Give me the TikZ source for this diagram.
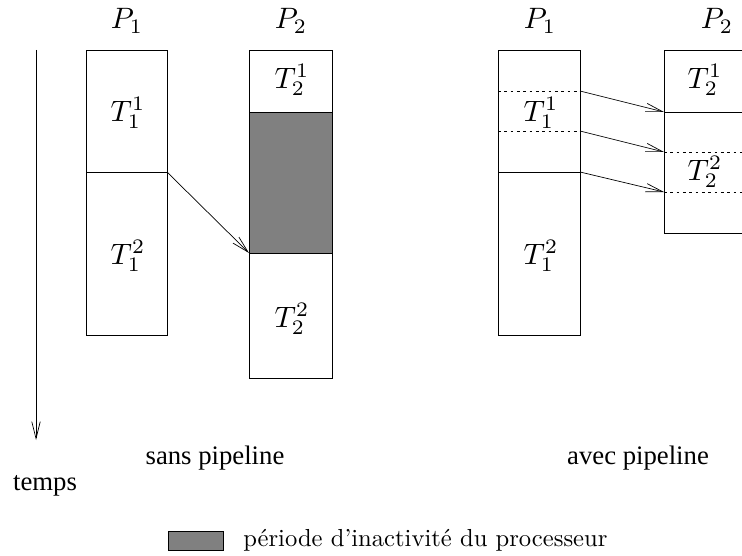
\documentclass[tikz,border=0pt]{standalone}
\usepackage{fontspec}
\usepackage{graphicx}
\newfontfamily\timesfont{Liberation Serif}
\usetikzlibrary{arrows.meta,positioning}
\definecolor{idle}{HTML}{808080}
\newcommand{\tlab}[1]{\scalebox{2.1}{$#1$}}

\tikzset{
  cell/.style={draw,line width=0.7pt},
  lbl/.style={font=\fontsize{10}{12}\selectfont},
  caption/.style={font=\timesfont\fontsize{19}{22}\selectfont},
  msg/.style={-{Straight Barb[length=12pt,width=6pt]},line width=0.5pt},
  sep/.style={dash pattern=on 2pt off 2.5pt,line width=0.5pt}
}

\begin{document}
\begin{tikzpicture}[x=0.025cm,y=-0.025cm]
  \clip (0,0) rectangle (742,556);

  % time axis
  \coordinate (t0) at (36,50);
  \coordinate (t1) at (36,440);
  \draw[msg] (t0) -- (t1);
  \node[caption] (temps) at (45,486) {temps};

  % sans pipeline
  \node[lbl] (p1a) at (127,21) {\tlab{P_1}};
  \node[lbl] (p2a) at (291,21) {\tlab{P_2}};
  \fill[idle] (249,112) rectangle (332,253);
  \draw[cell] (86,50) rectangle (167,335);
  \draw[cell] (86,172) -- (167,172);
  \draw[cell] (249,50) rectangle (332,378);
  \draw[cell] (249,112) -- (332,112);
  \draw[cell] (249,253) -- (332,253);
  \node[lbl] (t11a) at (128,113) {\tlab{T_1^1}};
  \node[lbl] (t12a) at (128,256) {\tlab{T_1^2}};
  \node[lbl] (t21a) at (292,80) {\tlab{T_2^1}};
  \node[lbl] (t22a) at (292,319) {\tlab{T_2^2}};
  \coordinate (enda) at (167,172);
  \coordinate (starta) at (249,253);
  \draw[msg] (enda) -- (starta);
  \node[caption] (sans) at (215,458) {sans pipeline};

  % avec pipeline
  \node[lbl] (p1b) at (540,21) {\tlab{P_1}};
  \node[lbl] (p2b) at (717,21) {\tlab{P_2}};
  \draw[cell] (498,50) rectangle (580,335);
  \draw[cell] (498,172) -- (580,172);
  \draw[sep] (498,91) -- (580,91);
  \draw[sep] (498,131) -- (580,131);
  \draw[cell] (664,50) rectangle (760,233);
  \draw[cell] (664,112) -- (760,112);
  \draw[sep] (664,152) -- (760,152);
  \draw[sep] (664,192) -- (760,192);
  \node[lbl] (t11b) at (541,113) {\tlab{T_1^1}};
  \node[lbl] (t12b) at (541,256) {\tlab{T_1^2}};
  \node[lbl] (t21b) at (705,80) {\tlab{T_2^1}};
  \node[lbl] (t22b) at (705,172) {\tlab{T_2^2}};
  \coordinate (s1) at (580,91);
  \coordinate (s2) at (580,131);
  \coordinate (s3) at (580,172);
  \coordinate (r1) at (664,112);
  \coordinate (r2) at (664,152);
  \coordinate (r3) at (664,192);
  \draw[msg] (s1) -- (r1);
  \draw[msg] (s2) -- (r2);
  \draw[msg] (s3) -- (r3);
  \node[caption] (avec) at (638,458) {avec pipeline};

  % legend
  \filldraw[fill=idle,draw=black,line width=0.7pt] (168,531) rectangle (223,550);
  \node[lbl,anchor=west,inner sep=0pt] (leg) at (243,540) {\scalebox{1.75}{période d'inactivité du processeur}};
\end{tikzpicture}
\end{document}
